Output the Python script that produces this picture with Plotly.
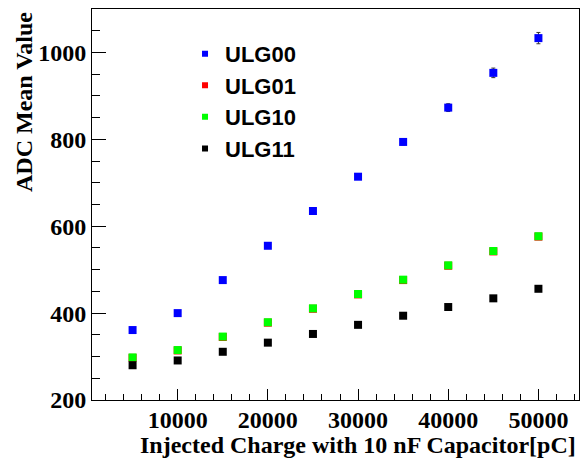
import plotly.graph_objects as go

charge = [5000, 10000, 15000, 20000, 25000, 30000, 35000, 40000, 45000, 50000]
ulg00 = [361, 400, 476, 555, 635, 714, 794, 873, 953, 1033]
ulg00_err = [3, 3, 4, 4, 5, 6, 7, 9, 11, 13]
ulg01 = [297, 314, 345, 378, 410, 443, 476, 509, 542, 576]
ulg10 = [298, 315, 346, 379, 411, 444, 477, 510, 543, 577]
ulg11 = [280, 291, 311, 332, 352, 373, 394, 414, 434, 456]

names = ["ULG00", "ULG01", "ULG10", "ULG11"]
colors = ["#0000ff", "#ff0000", "#00ff00", "#000000"]
series = [ulg00, ulg01, ulg10, ulg11]
errors = [ulg00_err, None, None, None]

fig = go.Figure()
for name, col, ys, err in zip(names, colors, series, errors):
    tr = dict(x=charge, y=ys, mode="markers", showlegend=False,
              marker=dict(symbol="square", size=8, color=col, line=dict(width=0)))
    if err is not None:
        tr["error_y"] = dict(type="data", array=err, visible=True, color="#333333",
                             thickness=1, width=2)
    fig.add_trace(go.Scatter(**tr))

for name, col in zip(names, colors):
    fig.add_trace(go.Scatter(x=[None], y=[None], mode="markers", name=name,
                             marker=dict(symbol="square", size=6, color=col, line=dict(width=0))))

tickfont = dict(family="Liberation Serif", size=24, color="black", weight="bold")

fig.update_layout(
    width=582, height=459,
    margin=dict(l=92, r=3, t=9, b=59, autoexpand=False),
    paper_bgcolor="white", plot_bgcolor="white",
    showlegend=True,
    legend=dict(x=0.191, y=0.939, xanchor="left", yanchor="top",
                bgcolor="rgba(0,0,0,0)", borderwidth=0,
                font=dict(family="Liberation Sans", size=22, color="black", weight="bold")),
    xaxis=dict(range=[500, 54500], tick0=0, dtick=10000, ticks="inside", ticklen=11,
               tickcolor="black", showline=True, linecolor="black", linewidth=1, mirror=True,
               showgrid=False, zeroline=False, tickfont=tickfont, tickformat="d",
               automargin=False, ticklabelstandoff=-2,
               minor=dict(dtick=2000, tick0=0, ticks="inside", ticklen=6, tickcolor="black",
                          showgrid=False)),
    yaxis=dict(range=[200, 1100], tick0=0, dtick=200, ticks="inside", ticklen=14,
               tickcolor="black", showline=True, linecolor="black", linewidth=1, mirror=True,
               showgrid=False, zeroline=False, tickfont=tickfont, automargin=False,
               minor=dict(dtick=50, tick0=0, ticks="inside", ticklen=8, tickcolor="black",
                          showgrid=False)),
    annotations=[
        dict(text="ADC Mean Value", textangle=-90, xref="paper", yref="paper",
             x=0, y=1, xanchor="center", yanchor="top", xshift=-68, yshift=-1,
             showarrow=False, font=dict(family="Liberation Serif", size=24, color="black", weight="bold")),
        dict(text="Injected Charge with 10 nF Capacitor[pC]", xref="paper", yref="paper",
             x=1, y=0, xanchor="right", yanchor="middle", xshift=-1, yshift=-45,
             showarrow=False, font=dict(family="Liberation Serif", size=24, color="black", weight="bold")),
    ],
)

fig.write_html("out.html", config={"displayModeBar": False},
               post_script="document.body.style.margin='0';document.body.style.overflow='hidden';")
